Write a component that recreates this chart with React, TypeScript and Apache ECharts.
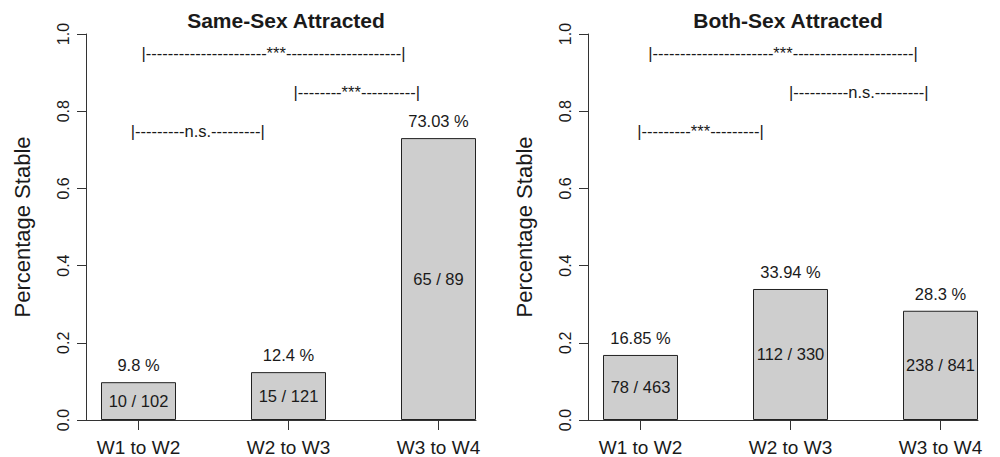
import React, { useEffect, useRef } from "react";
import * as echarts from "echarts";

const categories = ["W1 to W2", "W2 to W3", "W3 to W4"];
const panelTitles = ["Same-Sex Attracted", "Both-Sex Attracted"];

const sameValues = [0.098, 0.124, 0.7303];
const sameFractions = ["10 / 102", "15 / 121", "65 / 89"];
const samePercents = ["9.8 %", "12.4 %", "73.03 %"];

const bothValues = [0.1685, 0.3394, 0.283];
const bothFractions = ["78 / 463", "112 / 330", "238 / 841"];
const bothPercents = ["16.85 %", "33.94 %", "28.3 %"];

const yTicks = [0, 0.2, 0.4, 0.6, 0.8, 1.0];

const dash = (n: number) => "-".repeat(n);
const sameBrackets = [
  { x: 3.3, y: 0.95, text: "|" + dash(22) + "***" + dash(21) + "|" },
  { x: 4.41, y: 0.85, text: "|" + dash(8) + "***" + dash(10) + "|" },
  { x: 2.29, y: 0.75, text: "|" + dash(9) + "n.s." + dash(9) + "|" },
];
const bothBrackets = [
  { x: 3.4, y: 0.95, text: "|" + dash(22) + "***" + dash(22) + "|" },
  { x: 4.41, y: 0.85, text: "|" + dash(10) + "n.s." + dash(9) + "|" },
  { x: 2.3, y: 0.75, text: "|" + dash(9) + "***" + dash(9) + "|" },
];

// R barplot midpoints (width 1, space 1)
const catPos = categories.map((_, i) => 1.5 + 2 * i);

const FONT = "'Liberation Sans', Arial, Helvetica, sans-serif";
const INK = "#1a1a1a";

export default function App() {
  const ref = useRef<HTMLDivElement>(null);
  useEffect(() => {
    document.body.style.margin = "0";
    if (!ref.current) return;
    const chart = echarts.init(ref.current, undefined, { renderer: "svg" });

    const grids = [
      { left: 86, top: 34, width: 390, height: 387 },
      { left: 588, top: 34, width: 390, height: 387 },
    ];

    const xAxes = grids.map((_, gi) => ({
      type: "value",
      gridIndex: gi,
      min: 0.8,
      max: 6,
      axisLine: { show: true, lineStyle: { color: "#333", width: 1 } },
      axisTick: {
        show: true,
        customValues: catPos,
        length: 10,
        lineStyle: { color: "#333", width: 1 },
      },
      axisLabel: {
        show: true,
        customValues: catPos,
        formatter: (v: number) => {
          const idx = catPos.findIndex((p) => Math.abs(p - v) < 1e-6);
          return idx >= 0 ? categories[idx] : "";
        },
        margin: 18,
        fontSize: 19,
        color: INK,
        fontFamily: FONT,
      },
      splitLine: { show: false },
    }));

    const yAxes = grids.map((_, gi) => ({
      type: "value",
      gridIndex: gi,
      min: 0,
      max: 1,
      interval: 0.2,
      name: "Percentage Stable",
      nameLocation: "middle",
      nameRotate: 90,
      nameGap: 53,
      nameTextStyle: { fontSize: 22, color: INK, fontFamily: FONT },
      axisLine: { show: true, lineStyle: { color: "#333", width: 1 } },
      axisTick: { show: true, length: 9, lineStyle: { color: "#333", width: 1 } },
      axisLabel: {
        rotate: 90,
        margin: 15,
        fontSize: 16,
        color: INK,
        fontFamily: FONT,
        formatter: (v: number) => (yTicks.some((t) => Math.abs(t - v) < 1e-6) ? v.toFixed(1) : ""),
      },
      splitLine: { show: false },
    }));

    const panels = [
      { values: sameValues, fractions: sameFractions, percents: samePercents, brackets: sameBrackets },
      { values: bothValues, fractions: bothFractions, percents: bothPercents, brackets: bothBrackets },
    ];

    const series: any[] = [];
    panels.forEach((p, gi) => {
      series.push({
        type: "bar",
        xAxisIndex: gi,
        yAxisIndex: gi,
        barWidth: 75,
        silent: true,
        itemStyle: { color: "#cecece", borderColor: "#222", borderWidth: 1 },
        label: {
          show: true,
          position: "inside",
          formatter: "{b}",
          fontSize: 16.5,
          color: INK,
          fontFamily: FONT,
        },
        data: p.values.map((v, i) => ({ name: p.fractions[i], value: [catPos[i], v] })),
      });
      series.push({
        type: "scatter",
        xAxisIndex: gi,
        yAxisIndex: gi,
        symbolSize: 0.01,
        silent: true,
        itemStyle: { color: "transparent", opacity: 1 },
        label: {
          show: true,
          position: "top",
          distance: 8,
          formatter: "{b}",
          fontSize: 16.5,
          lineHeight: 18,
          color: INK,
          opacity: 1,
          fontFamily: FONT,
        },
        data: p.values.map((v, i) => ({ name: p.percents[i], value: [catPos[i], v] })),
      });
      series.push({
        type: "scatter",
        xAxisIndex: gi,
        yAxisIndex: gi,
        symbolSize: 0.01,
        silent: true,
        itemStyle: { color: "transparent", opacity: 1 },
        label: {
          show: true,
          position: "inside",
          formatter: "{b}",
          fontSize: 16.5,
          color: INK,
          opacity: 1,
          textBorderWidth: 0,
          fontFamily: FONT,
        },
        data: p.brackets.map((b) => ({ name: b.text, value: [b.x, b.y] })),
      });
    });

    chart.setOption({
      animation: false,
      backgroundColor: "#ffffff",
      grid: grids,
      xAxis: xAxes,
      yAxis: yAxes,
      series,
      graphic: panelTitles.map((t, i) => ({
        type: "text",
        x: i === 0 ? 286 : 788,
        y: 20,
        style: {
          text: t,
          fontSize: 21,
          fontWeight: "bold",
          fontFamily: FONT,
          fill: INK,
          textAlign: "center",
          textVerticalAlign: "middle",
        },
      })),
    });

    return () => chart.dispose();
  }, []);
  return <div ref={ref} style={{ width: 1000, height: 457 }} />;
}
